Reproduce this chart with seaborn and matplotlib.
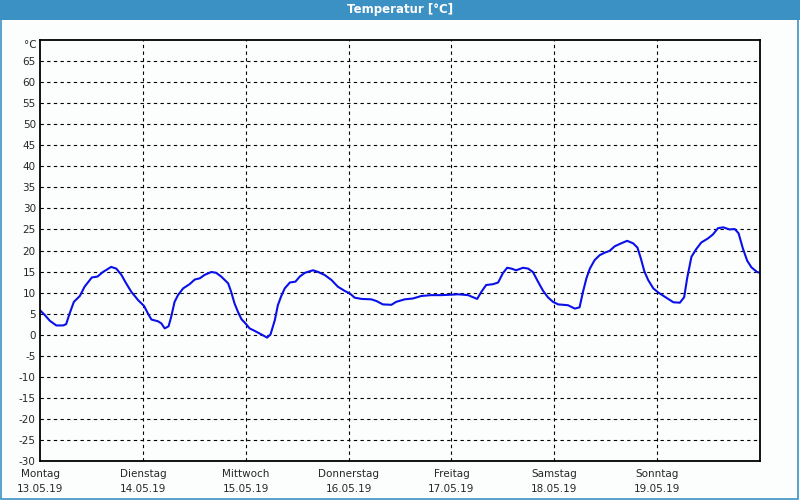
import matplotlib
matplotlib.use("Agg")
import matplotlib.pyplot as plt
import matplotlib.transforms as mtransforms
from matplotlib.patches import Rectangle
import seaborn as sns
import pandas as pd

# hours since Monday 13.05.19 00:00
hours = [0.0, 1.1, 2.3, 3.8, 5.4, 6.1, 6.9, 7.9, 9.3, 10.4, 12.1, 13.4, 14.7, 16.6,
         17.8, 19.0, 20.1, 21.3, 22.9, 24.3, 25.2, 26.0, 27.5, 28.3, 29.1, 30.0, 30.6,
         31.4, 32.2, 33.4, 34.9, 36.1, 37.3, 38.4, 40.0, 41.1, 42.3, 43.9, 44.6, 45.4,
         46.2, 47.0, 48.1, 48.9, 50.1, 51.6, 53.0, 53.8, 54.8, 55.5, 56.3, 57.1, 58.3,
         59.6, 60.6, 61.8, 63.7, 64.9, 66.4, 68.0, 69.5, 71.1, 72.3, 73.4, 75.0, 77.3,
         78.5, 80.0, 82.0, 83.1, 85.1, 87.0, 89.0, 91.3, 93.6, 96.0, 97.5, 99.9, 100.8,
         102.0, 103.0, 104.1, 105.7, 106.9, 108.0, 109.0, 110.0, 111.1, 112.7, 113.9,
         115.0, 116.2, 117.4, 118.5, 119.7, 120.9, 123.2, 124.8, 125.9, 126.7, 127.5,
         128.3, 129.4, 130.6, 131.8, 132.9, 134.1, 135.6, 137.0, 138.4, 139.4, 140.2,
         141.0, 141.9, 143.1, 144.3, 145.8, 147.8, 149.3, 150.3, 151.0, 152.0, 153.1,
         154.3, 155.9, 157.0, 158.2, 159.4, 160.9, 162.1, 163.0, 164.0, 165.0, 166.0,
         167.3, 168.0]
temps = [5.8, 4.7, 3.3, 2.2, 2.2, 2.5, 5.0, 7.8, 9.2, 11.4, 13.6, 13.8, 14.9, 16.1,
         15.7, 14.2, 12.2, 10.2, 8.2, 6.8, 5.0, 3.6, 3.2, 2.7, 1.5, 2.0, 4.2,
         7.8, 9.4, 11.0, 12.0, 13.1, 13.4, 14.2, 14.9, 14.7, 13.8, 12.2, 10.2, 7.4,
         5.4, 3.7, 2.5, 1.5, 0.9, 0.1, -0.7, 0.1, 3.5, 7.0, 9.2, 11.0, 12.4,
         12.6, 13.8, 14.7, 15.3, 14.9, 14.2, 13.0, 11.4, 10.4, 9.8, 8.8, 8.5, 8.4,
         8.0, 7.2, 7.1, 7.8, 8.4, 8.6, 9.2, 9.4, 9.4, 9.5, 9.6, 9.4, 9.0,
         8.5, 10.2, 11.8, 12.0, 12.4, 14.6, 15.9, 15.7, 15.3, 15.9, 15.7,
         14.9, 12.6, 10.4, 8.9, 7.8, 7.2, 7.0, 6.2, 6.5, 10.2, 13.4,
         15.7, 17.7, 18.9, 19.5, 19.9, 21.0, 21.7, 22.3, 21.7, 20.7, 18.1,
         15.1, 13.0, 11.0, 10.0, 9.0, 7.7, 7.6, 8.9, 13.4, 18.5, 20.3,
         21.9, 22.9, 23.8, 25.3, 25.5, 25.0, 25.1, 24.1, 20.5, 17.6, 16.0,
         14.9, 14.7]

day_names = ["Montag", "Dienstag", "Mittwoch", "Donnerstag", "Freitag", "Samstag", "Sonntag"]
day_dates = ["13.05.19", "14.05.19", "15.05.19", "16.05.19", "17.05.19", "18.05.19", "19.05.19"]
y_ticks = list(range(-30, 70, 5))
title = "Temperatur [°C]"
unit = "°C"

df = pd.DataFrame({"hours": hours, "temp": temps})

sns.set_style("white")
plt.rcParams["font.family"] = ["DejaVu Sans"]

bg = "#fcfefd"
fig = plt.figure(figsize=(8, 5), dpi=100, facecolor=bg)
ax = fig.add_axes([40 / 800, 39 / 500, 720 / 800, 421 / 500])
ax.set_facecolor(bg)

# title bar
fig.patches.append(Rectangle((0, 480 / 500), 1, 20 / 500, transform=fig.transFigure,
                             facecolor="#3c91c4", edgecolor="none", zorder=0))
fig.patches.append(Rectangle((0.001, 0.002), 0.997, 0.996, transform=fig.transFigure,
                             facecolor="none", edgecolor="#3c91c4", linewidth=1.2, zorder=5))
fig.text(0.5, 490 / 500, title, color="white", fontsize=8.5, fontweight="bold",
         ha="center", va="center")

sns.lineplot(data=df, x="hours", y="temp", ax=ax, color="#0a10e8", linewidth=1.5)

ax.set_xlim(0, 168)
ax.set_ylim(-30, 70)
ax.set_yticks(y_ticks)
ax.set_yticklabels([str(v) for v in y_ticks], fontsize=7.5)
ax.set_xticks([24 * i for i in range(7)])
ax.set_xticklabels([f"{n}\n{d}" for n, d in zip(day_names, day_dates)], fontsize=7.5,
                   linespacing=1.55)
ax.tick_params(axis="both", length=0, pad=3)
ax.tick_params(axis="x", pad=6)
ax.set_xlabel("")
ax.set_ylabel("")

for v in y_ticks[1:]:
    ax.axhline(v, color="black", linestyle=(0, (3, 3)), linewidth=0.8, zorder=1)
for i in range(1, 7):
    ax.axvline(24 * i, color="black", linestyle=(0, (3, 3)), linewidth=0.8, zorder=1)

for s in ax.spines.values():
    s.set_visible(True)
    s.set_color("black")
    s.set_linewidth(1.3)

trans = mtransforms.blended_transform_factory(ax.transAxes, ax.transData)
ax.text(-0.004, 68.8, unit, transform=trans, ha="right", va="center", fontsize=7.5)

fig.savefig("out.png", dpi=100, facecolor=bg)
